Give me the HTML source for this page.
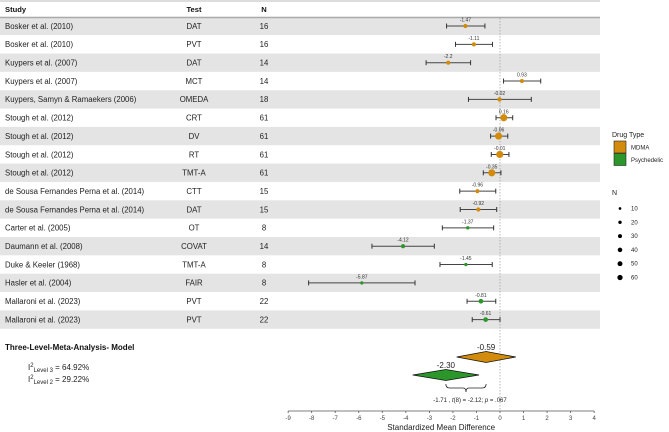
<!DOCTYPE html>
<html><head><meta charset="utf-8">
<style>
html,body{margin:0;padding:0;background:#fff;}
svg{display:block;font-family:"Liberation Sans",Arial,sans-serif;}
</style></head>
<body>
<svg id="chart" width="669" height="432" viewBox="0 0 669 432"></svg>
<script>
const studies=["Bosker et al. (2010)","Bosker et al. (2010)","Kuypers et al. (2007)","Kuypers et al. (2007)","Kuypers, Samyn & Ramaekers (2006)","Stough et al. (2012)","Stough et al. (2012)","Stough et al. (2012)","Stough et al. (2012)","de Sousa Fernandes Perna et al. (2014)","de Sousa Fernandes Perna et al. (2014)","Carter et al. (2005)","Daumann et al. (2008)","Duke & Keeler (1968)","Hasler et al. (2004)","Mallaroni et al. (2023)","Mallaroni et al. (2023)"];
const tests=["DAT","PVT","DAT","MCT","OMEDA","CRT","DV","RT","TMT-A","CTT","DAT","OT","COVAT","TMT-A","FAIR","PVT","PVT"];
const ns=[16,16,14,14,18,61,61,61,61,15,15,8,14,8,8,22,22];
const effects=[-1.47,-1.11,-2.2,0.93,-0.02,0.16,-0.06,-0.01,-0.35,-0.96,-0.92,-1.37,-4.12,-1.45,-5.87,-0.81,-0.61];
const lower=[-2.27,-1.89,-3.14,0.15,-1.34,-0.17,-0.40,-0.37,-0.71,-1.71,-1.69,-2.45,-5.44,-2.55,-8.13,-1.40,-1.18];
const upper=[-0.64,-0.32,-1.25,1.73,1.33,0.54,0.33,0.38,0.04,-0.18,-0.14,-0.27,-2.79,-0.33,-3.61,-0.18,0.0];
const drug=["MDMA","MDMA","MDMA","MDMA","MDMA","MDMA","MDMA","MDMA","MDMA","MDMA","MDMA","Psychedelic","Psychedelic","Psychedelic","Psychedelic","Psychedelic","Psychedelic"];
const effectLabels=["-1.47","-1.11","-2.2","0.93","-0.02","0.16","-0.06","-0.01","-0.35","-0.96","-0.92","-1.37","-4.12","-1.45","-5.87","-0.81","-0.61"];
const summaryNames=["MDMA","Psychedelic"];
const summaryEst=[-0.59,-2.30];
const summaryLo=[-1.84,-3.71];
const summaryHi=[0.67,-0.89];
const summaryLabels=["-0.59","-2.30"];
const xTicks=[-9,-8,-7,-6,-5,-4,-3,-2,-1,0,1,2,3,4];
const legendN=[10,20,30,40,50,60];

const colors={MDMA:"#d28b0a",Psychedelic:"#2b972b"};
const svg=document.getElementById('chart');
const NS="http://www.w3.org/2000/svg";
function x(v){return 500+v*23.54;}
function rowY(i){return 26+i*18.35;}
function rad(n){return 0.6+Math.sqrt(n)*0.38;}
function mk(tag,attrs,parent){const e=document.createElementNS(NS,tag);for(const k in attrs)e.setAttribute(k,attrs[k]);(parent||svg).appendChild(e);return e;}
function txt(s,attrs,parent){const e=mk('text',attrs,parent);e.textContent=s;return e;}

for(let i=0;i<studies.length;i++){
  if(i%2===0){const b=mk('rect',{x:0,y:rowY(i)-9.2,width:600,height:18.35,fill:'#e4e4e4'});
  
  }
}
const l1=mk('line',{x1:0,y1:1,x2:600,y2:1,stroke:'#bbb','stroke-width':1});

const l2=mk('line',{x1:0,y1:17.5,x2:600,y2:17.5,stroke:'#aaa','stroke-width':1.5});

let h;
h=txt('Study',{x:5,y:12,'font-size':7.6,'font-weight':'bold',fill:'#111'});
h=txt('Test',{x:194,y:12,'font-size':7.6,'font-weight':'bold','text-anchor':'middle',fill:'#111'});
h=txt('N',{x:264,y:12,'font-size':7.6,'font-weight':'bold','text-anchor':'middle',fill:'#111'});

const z=mk('line',{x1:x(0),y1:18,x2:x(0),y2:410,stroke:'#999','stroke-width':0.7,'stroke-dasharray':'1.5,1.5'});


for(let i=0;i<studies.length;i++){
  const y=rowY(i);
  let t=txt(studies[i],{x:5,y:y+2.8,'font-size':7.8,fill:'#222'});
  
  t=txt(tests[i],{x:194,y:y+2.8,'font-size':7.8,'text-anchor':'middle',fill:'#222'});
  
  t=txt(String(ns[i]),{x:264,y:y+2.8,'font-size':7.8,'text-anchor':'middle',fill:'#222'});
  
  const g=mk('g',{});
  
  
  mk('line',{x1:x(lower[i]),y1:y,x2:x(upper[i]),y2:y,stroke:'#444','stroke-width':1},g);
  mk('line',{x1:x(lower[i]),y1:y-2.5,x2:x(lower[i]),y2:y+2.5,stroke:'#333','stroke-width':1},g);
  mk('line',{x1:x(upper[i]),y1:y-2.5,x2:x(upper[i]),y2:y+2.5,stroke:'#333','stroke-width':1},g);
  mk('circle',{cx:x(effects[i]),cy:y,r:rad(ns[i]),fill:colors[drug[i]]},g);
  txt(effectLabels[i],{x:x(effects[i]),y:y-4.5,'font-size':5,'text-anchor':'middle',fill:'#333'},g);
}

for(let j=0;j<summaryEst.length;j++){
  const y=357+j*18;
  const p=mk('polygon',{points:`${x(summaryLo[j])},${y} ${x(summaryEst[j])},${y-5.5} ${x(summaryHi[j])},${y} ${x(summaryEst[j])},${y+5.5}`,fill:colors[summaryNames[j]],stroke:'#111','stroke-width':0.8});
  
  
  const t=txt(summaryLabels[j],{x:x(summaryEst[j]),y:y-7,'font-size':8,'text-anchor':'middle',fill:'#222'});
  
}
const bx1=x(summaryEst[1]),bx2=x(summaryEst[0]),bm=(bx1+bx2)/2;
const br=mk('path',{d:`M${bx1},384 Q${bx1},388 ${bx1+4},388 L${bm-3},388 Q${bm},388 ${bm},392 Q${bm},388 ${bm+3},388 L${bx2-4},388 Q${bx2},388 ${bx2},384`,fill:'none',stroke:'#222','stroke-width':0.8});

const dt=mk('text',{x:470,y:402,'font-size':6,'text-anchor':'middle',fill:'#222'});

dt.innerHTML='-1.71 , <tspan font-style="italic">t</tspan>(8) = -2.12; <tspan font-style="italic">p</tspan> = .067';

const ax=mk('g',{});

mk('line',{x1:x(xTicks[0]),y1:411,x2:x(xTicks[xTicks.length-1]),y2:411,stroke:'#555','stroke-width':0.8},ax);
xTicks.forEach(v=>{
  mk('line',{x1:x(v),y1:411,x2:x(v),y2:413,stroke:'#555','stroke-width':0.8},ax);
  txt(String(v),{x:x(v),y:420,'font-size':6,'text-anchor':'middle',fill:'#444'},ax);
});
const xt=txt('Standardized Mean Difference',{x:x(-2.5),y:430,'font-size':8,'text-anchor':'middle',fill:'#222'});


let mt=txt('Three-Level-Meta-Analysis- Model',{x:5,y:350,'font-size':8,'font-weight':'bold',fill:'#111'});

mt=mk('text',{x:28,y:370,'font-size':8,fill:'#222'});

mt.innerHTML='I<tspan font-size="6" dy="-3">2</tspan><tspan font-size="6" dy="5">Level 3</tspan><tspan dy="-2"> = 64.92%</tspan>';
mt=mk('text',{x:28,y:382,'font-size':8,fill:'#222'});

mt.innerHTML='I<tspan font-size="6" dy="-3">2</tspan><tspan font-size="6" dy="5">Level 2</tspan><tspan dy="-2"> = 29.22%</tspan>';

const lg=mk('g',{});

txt('Drug Type',{x:612,y:137,'font-size':7,fill:'#222'},lg);
summaryNames.forEach((n,k)=>{
  const e=mk('g',{},lg);
  
  
  mk('rect',{x:614,y:141+k*12.5,width:12,height:12,fill:colors[n],stroke:'#222','stroke-width':0.6},e);
  txt(n,{x:631,y:149.5+k*12.5,'font-size':6,fill:'#222'},e);
});
txt('N',{x:612,y:195,'font-size':7,fill:'#222'},lg);
legendN.forEach((n,k)=>{
  const e=mk('g',{},lg);
  
  
  const y=208.5+k*13.8;
  mk('circle',{cx:620,cy:y,r:rad(n)*0.75,fill:'#000'},e);
  txt(String(n),{x:631,y:y+2,'font-size':6,fill:'#222'},e);
});
</script>
</body></html>
